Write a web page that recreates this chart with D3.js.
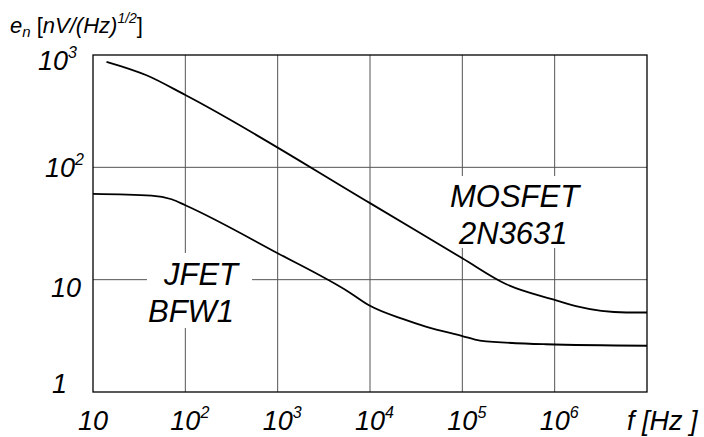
<!DOCTYPE html>
<html>
<head>
<meta charset="utf-8">
<script src="https://cdn.jsdelivr.net/npm/d3@7"></script>
<style>
  html, body { margin: 0; padding: 0; background: #fff; }
  svg { display: block; font-family: "Liberation Sans", Arial, sans-serif; }
</style>
</head>
<body>
<div id="chart"></div>
<script>
// Datos (f en Hz, e_n en nV/sqrt(Hz))
const mosfetF  = [14, 38, 100, 1e4, 1e5, 3e5, 1e6, 1.7e6, 6e6, 1e7];
const mosfetEn = [870, 660, 440, 48, 15.5, 9.1, 6.6, 5.8, 5.1, 5.1];

const jfetF  = [10, 43, 71, 100, 1000, 6000, 1e4, 2.3e4, 4.1e4, 1e5, 1.55e5, 8e5, 1e7];
const jfetEn = [58, 56, 52, 46, 17.2, 7.7, 5.85, 4.45, 3.8, 3.15, 2.87, 2.66, 2.58];

const xTicks = [10, 1e2, 1e3, 1e4, 1e5, 1e6];
const xTickExp = ['', '2', '3', '4', '5', '6'];
const yTicks = [1, 10, 100, 1000];
const yTickExp = ['', '', '2', '3'];

const width = 704, height = 437;
const plot = { left: 93, right: 647, top: 55, bottom: 392 };

const svg = d3.select('#chart').append('svg')
  .attr('width', width)
  .attr('height', height);

const x = d3.scaleLog().domain([10, 1e7]).range([plot.left, plot.right]);
const y = d3.scaleLog().domain([1, 1000]).range([plot.bottom, plot.top]);

// Rejilla
const grid = svg.append('g').attr('stroke', '#555').attr('stroke-width', 1);
grid.selectAll('.vg').data(xTicks.slice(1)).enter().append('line')
  .attr('x1', d => x(d)).attr('x2', d => x(d))
  .attr('y1', plot.top).attr('y2', plot.bottom);
grid.selectAll('.hg').data([10, 100]).enter().append('line')
  .attr('x1', plot.left).attr('x2', plot.right)
  .attr('y1', d => y(d)).attr('y2', d => y(d));

// Marco
svg.append('rect')
  .attr('x', plot.left).attr('y', plot.top)
  .attr('width', plot.right - plot.left)
  .attr('height', plot.bottom - plot.top)
  .attr('fill', 'none').attr('stroke', '#000').attr('stroke-width', 1.3);

// Fondo blanco de las etiquetas de curva (cortan la rejilla)
svg.append('rect').attr('x', 147).attr('y', 253).attr('width', 105).attr('height', 75).attr('fill', '#fff');
svg.append('rect').attr('x', 446).attr('y', 176).attr('width', 144).attr('height', 72).attr('fill', '#fff');

// Curvas
const line = d3.line()
  .x(d => x(d[0]))
  .y(d => y(d[1]))
  .curve(d3.curveMonotoneX);

[[mosfetF, mosfetEn], [jfetF, jfetEn]].forEach(([fs, es]) => {
  svg.append('path')
    .attr('d', line(fs.map((f, i) => [f, es[i]])))
    .attr('fill', 'none')
    .attr('stroke', '#000')
    .attr('stroke-width', 1.8);
});

// Etiquetas de curva
const curveLabel = (lines, xs, ys) => {
  lines.forEach((t, i) => {
    svg.append('text')
      .attr('x', xs[i]).attr('y', ys[i])
      .attr('font-size', 31).attr('font-style', 'italic')
      .attr('fill', '#000')
      .text(t);
  });
};
curveLabel(['MOSFET', '2N3631'], [450, 459], [207, 244]);
curveLabel(['JFET', 'BFW1'], [164, 148], [285, 322]);

// Etiquetas eje X
const xl = svg.append('g').attr('font-style', 'italic').attr('fill', '#000');
xTicks.forEach((v, i) => {
  const t = xl.append('text')
    .attr('x', x(v) - 15)
    .attr('y', 430)
    .attr('font-size', 27);
  t.append('tspan').text('10');
  if (xTickExp[i]) {
    t.append('tspan').attr('dy', -12).attr('font-size', 16).text(xTickExp[i]);
  }
});
xl.append('text').attr('x', 627).attr('y', 430).attr('font-size', 27).text('f [Hz ]');

// Etiquetas eje Y
const yNudge = { 1: [52, 1], 10: [51, 17], 100: [45, 10], 1000: [38, 15] };
const yl = svg.append('g').attr('font-style', 'italic').attr('fill', '#000');
yTicks.forEach((v, i) => {
  const t = yl.append('text')
    .attr('x', yNudge[v][0])
    .attr('y', y(v) + yNudge[v][1])
    .attr('font-size', 27);
  t.append('tspan').text(v === 1 ? '1' : '10');
  if (yTickExp[i]) {
    t.append('tspan').attr('dy', -12).attr('font-size', 16).text(yTickExp[i]);
  }
});

// Titulo del eje Y
const title = svg.append('text').attr('x', 10).attr('y', 33).attr('font-size', 22).attr('fill', '#000');
title.append('tspan').attr('font-style', 'italic').text('e');
title.append('tspan').attr('font-style', 'italic').attr('font-size', 15).attr('dy', 4).text('n');
title.append('tspan').attr('dy', -4).text(' [');
title.append('tspan').attr('font-style', 'italic').text('nV/(Hz)');
title.append('tspan').attr('font-style', 'italic').attr('font-size', 14).attr('dy', -10).text('1/2');
title.append('tspan').attr('dy', 10).text(']');
</script>
</body>
</html>
